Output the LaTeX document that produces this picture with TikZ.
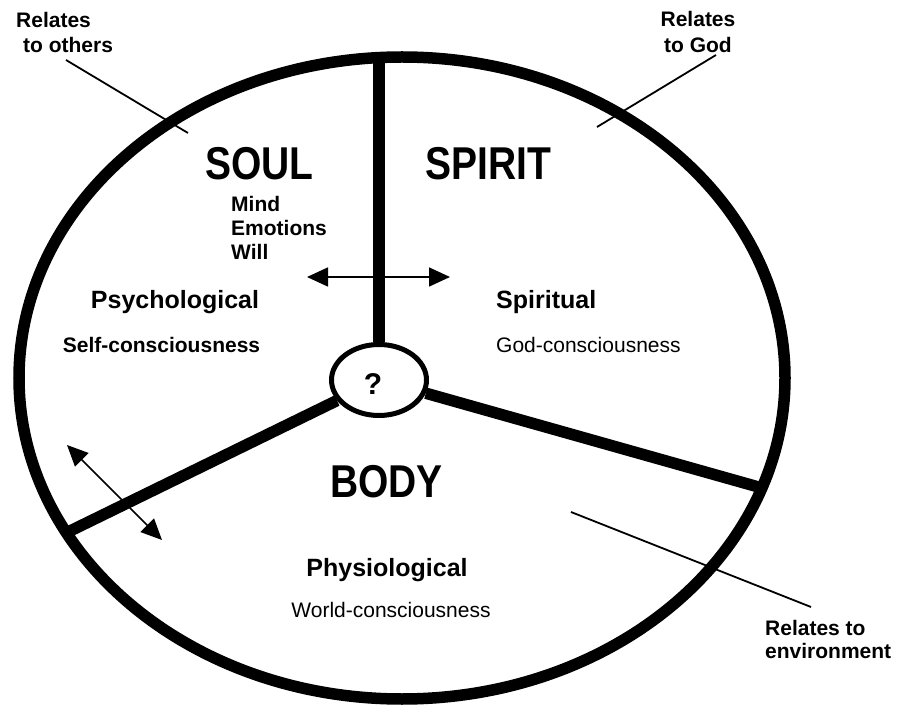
\documentclass[tikz,border=0pt]{standalone}
\usepackage{fontspec}
\setmainfont{Liberation Sans}
\usepackage{graphicx}
\usetikzlibrary{shapes.geometric,arrows.meta}
\tikzset{
  thick line/.style={line width=11.5pt},
  leader/.style={line width=1.8pt},
  dblarrow/.style={line width=1.6pt,{Triangle[length=21pt,width=19pt]}-{Triangle[length=21pt,width=19pt]}},
  bigtxt/.style={font=\fontsize{39}{44}\selectfont\bfseries,inner sep=0pt},
  midtxt/.style={font=\fontsize{25}{28}\selectfont\bfseries,inner sep=0pt},
  smalltxt/.style={font=\fontsize{21}{24}\selectfont\bfseries,inner sep=0pt},
  plaintxt/.style={font=\fontsize{21}{24}\selectfont,inner sep=0pt},
}
\begin{document}
\begin{tikzpicture}[x=1pt,y=-1pt]
\useasboundingbox (0,0) rectangle (897,708);
% outer ellipse
\draw[thick line] (402,378) ellipse [x radius=383, y radius=321];
% centre ellipse
\node[ellipse,draw,line width=5pt,minimum width=95pt,minimum height=71pt,inner sep=0pt] (q) at (379,380) {};
\node[font=\fontsize{30}{32}\selectfont\bfseries,inner sep=0pt] (qm) at (373,384) {?};
% spoke ends on the outer ellipse
\coordinate (top) at (379,57);
\coordinate (lft) at (68,532);
\coordinate (rgt) at (762,488);
\draw[thick line] (q.north) -- (top);
\draw[thick line] (q) -- (lft);
\draw[thick line] (q) -- (rgt);
% arrows
\coordinate (ha) at (307,277);
\coordinate (hb) at (450,277);
\draw[dblarrow] (ha) -- (hb);
\coordinate (da) at (67,445);
\coordinate (db) at (162,540);
\draw[dblarrow] (da) -- (db);
% big labels
\node[bigtxt,anchor=base] (soul) at (259.5,180) {\scalebox{1}[1.18]{SOUL}};
\node[bigtxt,anchor=base] (spirit) at (488,180) {\scalebox{1}[1.18]{SPIRIT}};
\node[bigtxt,anchor=base] (body) at (386.5,497) {\scalebox{1}[1.18]{BODY}};
% soul text
\node[smalltxt,anchor=base west,align=left] (mew) at (231,260) {Mind\\Emotions\\Will};
\node[midtxt,anchor=base] (psy) at (175,309) {Psychological};
\node[smalltxt,anchor=base] (selfc) at (161.5,353) {Self-consciousness};
% spirit text
\node[midtxt,anchor=base west] (spi) at (496,309) {Spiritual};
\node[plaintxt,anchor=base west] (godc) at (496,353) {God-consciousness};
% body text
\node[midtxt,anchor=base] (phy) at (387,576) {Physiological};
\node[plaintxt,anchor=base] (worldc) at (391,617) {World-consciousness};
% side labels
\node[smalltxt,anchor=base west,align=left,font=\fontsize{21}{25}\selectfont\bfseries] (rel1) at (16,53) {Relates\\\hspace*{7pt}to others};
\node[smalltxt,anchor=base,align=center,font=\fontsize{21}{26}\selectfont\bfseries] (rel2) at (698,53) {Relates\\to God};
\node[smalltxt,anchor=base west,align=left,font=\fontsize{21}{23}\selectfont\bfseries] (rel3) at (765,658) {Relates to\\environment};
% leader lines
\coordinate (l1a) at (66,60);
\coordinate (l1b) at (188,133);
\coordinate (l2a) at (716,55);
\coordinate (l2b) at (597,127);
\coordinate (l3a) at (811,607);
\coordinate (l3b) at (571,512);
\draw[leader] (l1a) -- (l1b);
\draw[leader] (l2a) -- (l2b);
\draw[leader] (l3a) -- (l3b);
\end{tikzpicture}
\end{document}
